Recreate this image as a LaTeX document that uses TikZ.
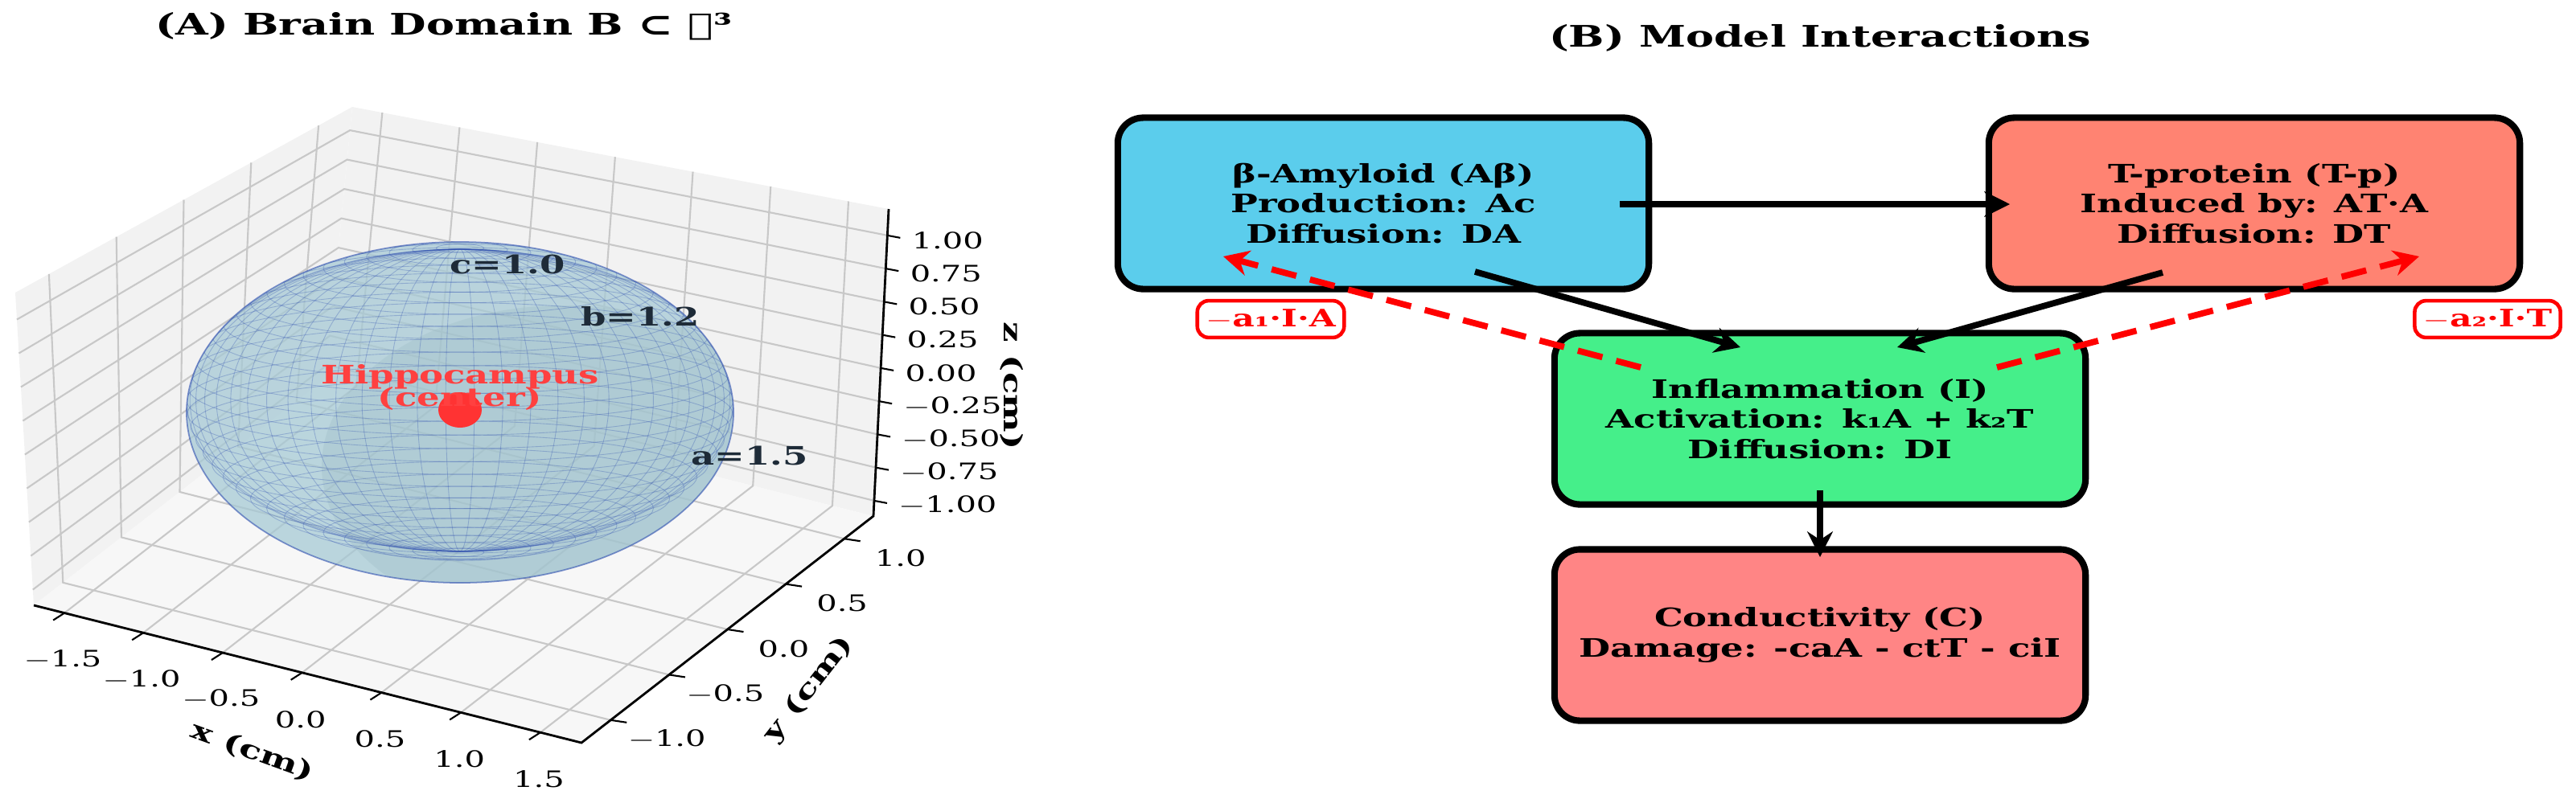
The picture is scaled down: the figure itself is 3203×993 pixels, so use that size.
\documentclass[tikz,border=0pt]{standalone}
\usepackage{fontspec}
\setmainfont{DejaVu Serif}
\usepackage{tikz}
\usetikzlibrary{calc,arrows.meta}

\newcommand{\wtxt}[1]{\scalebox{1.42}[1]{#1}}
\definecolor{amycol}{HTML}{5BCDEC}
\definecolor{taucol}{HTML}{FF8372}
\definecolor{inflcol}{HTML}{45EF8A}
\definecolor{condcol}{HTML}{FF8585}
\definecolor{panecol}{HTML}{F2F2F2}
\definecolor{gridcol}{HTML}{C8C8C8}
\definecolor{meshcol}{HTML}{2F4FB0}
\definecolor{shellcol}{HTML}{ADD8E6}
\definecolor{labcol}{HTML}{1E2B38}

\tikzset{
  box/.style={draw, line width=2.3pt, rounded corners=9pt, minimum width=6.6cm,
    minimum height=2.13cm, align=center, font=\fontsize{9}{10.6}\selectfont\bfseries},
  flow/.style={line width=2.2pt, -{Stealth[length=9pt,width=9pt]}},
  damp/.style={line width=2.2pt, red, dash pattern=on 9pt off 5pt, -{Stealth[length=9pt,width=9pt]}},
  rate/.style={draw=red, text=red, fill=white, line width=1.3pt, rounded corners=4pt,
    font=\fontsize{8.5}{10}\selectfont\bfseries, inner sep=3pt},
  ttl/.style={font=\fontsize{10.5}{12}\selectfont\bfseries},
  tick/.style={font=\fontsize{8}{9}\selectfont},
  alab/.style={font=\fontsize{9}{10}\selectfont\bfseries},
  grid3d/.style={gridcol, line width=0.6pt},
  mesh/.style={meshcol, opacity=0.3, line width=0.25pt},
}

\begin{document}
\begin{tikzpicture}[x=0.01cm, y=-0.01cm]
\useasboundingbox (0,0) rectangle (3203,993);

% panel A: axes box
\coordinate (FL) at (42,753);
\coordinate (FF) at (723,924);
\coordinate (FR) at (1086,642);
\coordinate (FB) at (405,471);
\coordinate (LT) at (19,364);
\coordinate (BT) at (438,133);
\coordinate (RT) at (1105,260);
\fill[panecol] (FL) -- (FB) -- (BT) -- (LT) -- cycle;
\fill[panecol] (FB) -- (FR) -- (RT) -- (BT) -- cycle;
\fill[panecol!60!white] (FL) -- (FF) -- (FR) -- (FB) -- cycle;
\foreach \t in {0.05,0.158,0.266,0.374,0.482,0.59,0.698,0.806,0.914} {
  \draw[grid3d] ($(FL)!\t!(LT)$) -- ($(FB)!\t!(BT)$) -- ($(FR)!\t!(RT)$);
}
\foreach \s in {0.1,0.3,0.5,0.7,0.9} {
  \draw[grid3d] ($(LT)!\s!(BT)$) -- ($(FL)!\s!(FB)$) -- ($(FF)!\s!(FR)$);
}
\foreach \s in {0.056,0.2,0.345,0.49,0.635,0.78,0.925} {
  \draw[grid3d] ($(FL)!\s!(FF)$) -- ($(FB)!\s!(FR)$) -- ($(BT)!\s!(RT)$);
}
\draw[line width=0.8pt] (FL) -- (FF) -- (FR) -- (RT);
% ticks
\foreach \s/\v in {0.056/$-$1.5,0.2/$-$1.0,0.345/$-$0.5,0.49/0.0,0.635/0.5,0.78/1.0,0.925/1.5} {
  \draw[line width=0.6pt] ($(FL)!\s!(FF)$) -- ++(-14,9);
  \node[tick] at ($($(FL)!\s!(FF)$)+(-2,58)$) {\wtxt{\v}};
}
\foreach \s/\v in {0.1/$-$1.0,0.3/$-$0.5,0.5/0.0,0.7/0.5,0.9/1.0} {
  \draw[line width=0.6pt] ($(FF)!\s!(FR)$) -- ++(20,3);
  \node[tick] at ($($(FF)!\s!(FR)$)+(70,24)$) {\wtxt{\v}};
}
\foreach \t/\v in {0.05/$-$1.00,0.158/$-$0.75,0.266/$-$0.50,0.374/$-$0.25,0.482/0.00,
                   0.59/0.25,0.698/0.50,0.806/0.75,0.914/1.00} {
  \draw[line width=0.6pt] ($(FR)!\t!(RT)$) -- ++(16,3);
  \node[tick, anchor=west] at ($($(FR)!\t!(RT)$)+(18,6)$) {\wtxt{\v}};
}
\node[alab, rotate=-20] (xlab) at (314,935) {\wtxt{x (cm)}};
\node[alab, rotate=52] (ylab) at (1006,858) {\wtxt{y (cm)}};
\node[alab, rotate=-90] (zlab) at (1258,480) {\wtxt{z (cm)}};

% ellipsoid
\fill[shellcol, opacity=0.7] (572,513) ellipse (340 and 212);
\fill[gray, opacity=0.12] (572,513) ellipse (340 and 212);
\begin{scope}
  \clip (572,513) ellipse (340 and 212);
  \fill[shellcol!70!gray, opacity=0.35] (700,580) ellipse (300 and 200);
  \foreach \p in {-85,-80,...,85} {
    \draw[mesh] (572,{498-190*sin(\p)}) ellipse ({340*cos(\p)} and {60*cos(\p)});
  }
  \foreach \q in {3,9,...,87} {
    \draw[mesh] (572,498) ellipse ({340*sin(\q)} and 188);
  }
\end{scope}
\draw[meshcol, opacity=0.6, line width=0.5pt] (572,513) ellipse (340 and 212);
\fill[red!80!white] (572,510) ellipse (27 and 22);
\node[alab, text=red!75!white, align=center] (hippo) at (572,482) {\wtxt{Hippocampus}\\[-2pt]\wtxt{(center)}};
\node[alab, text=labcol] (cax) at (631,329) {\wtxt{c=1.0}};
\node[alab, text=labcol] (bax) at (796,394) {\wtxt{b=1.2}};
\node[alab, text=labcol] (aax) at (932,567) {\wtxt{a=1.5}};
\node[ttl] (ttlA) at (552,33) {\wtxt{(A) Brain Domain B ⊂ ℝ³}};

% panel B: model
\node[ttl] (ttlB) at (2263,47) {\wtxt{(B) Model Interactions}};
\node[box, fill=amycol] (amy) at (1720,253) {\wtxt{β-Amyloid (Aβ)}\\\wtxt{Production: Ac}\\\wtxt{Diffusion: DA}};
\node[box, fill=taucol] (tau) at (2803,253) {\wtxt{T-protein (T-p)}\\\wtxt{Induced by: AT·A}\\\wtxt{Diffusion: DT}};
\node[box, fill=inflcol] (infl) at (2263,521) {\wtxt{Inflammation (I)}\\\wtxt{Activation: k₁A + k₂T}\\\wtxt{Diffusion: DI}};
\node[box, fill=condcol] (cond) at (2263,790) {\wtxt{Conductivity (C)}\\\wtxt{Damage: -caA - ctT - ciI}};
\node[rate] (ratA) at (1580,397) {\wtxt{$-$a₁·I·A}};
\node[rate] (ratT) at (3093,397) {\wtxt{$-$a₂·I·T}};

\coordinate (amyR) at (2014,254);
\coordinate (tauL) at (2499,254);
\coordinate (amyB) at (1834,338);
\coordinate (tauB) at (2689,339);
\coordinate (inflL) at (2164,432);
\coordinate (inflR) at (2359,432);
\coordinate (inflB) at (2263,610);
\coordinate (condT) at (2263,693);
\coordinate (inflDL) at (2040,457);
\coordinate (inflDR) at (2483,457);
\coordinate (amyD) at (1521,319);
\coordinate (tauD) at (3008,319);

\draw[flow] (amyR) -- (tauL);
\draw[flow] (amyB) -- (inflL);
\draw[flow] (tauB) -- (inflR);
\draw[flow] (inflB) -- (condT);
\draw[damp] (inflDL) -- (amyD);
\draw[damp] (inflDR) -- (tauD);
\end{tikzpicture}
\end{document}
